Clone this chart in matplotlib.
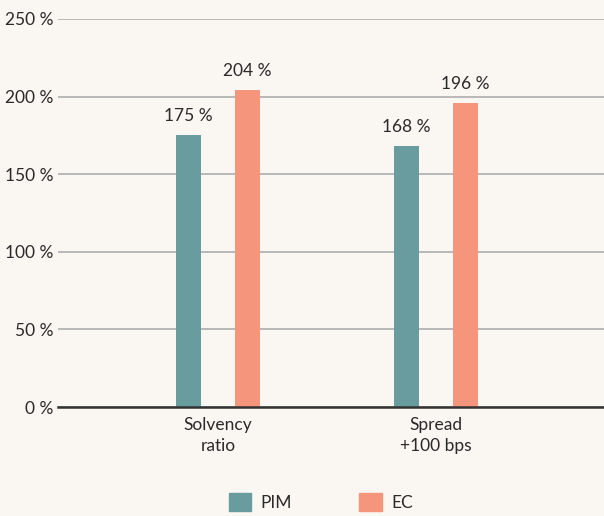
import numpy as np
import matplotlib.pyplot as plt
from matplotlib.patches import Patch

plt.rcParams['font.family'] = ['Lato', 'DejaVu Sans']

# data
categories = ['Solvency\nratio', 'Spread\n+100 bps']
pim = [175, 168]
ec = [204, 196]
yticks = [0, 50, 100, 150, 200, 250]

bg = '#FAF6F2'
c_pim = '#699C9E'
c_ec = '#F4957C'
txt = '#2A2A2A'
fs = 12.5

fig = plt.figure(figsize=(6.04, 5.16), dpi=100, facecolor=bg)
ax = fig.add_axes([0.096, 0.2112, 0.904, 0.752])
ax.set_facecolor(bg)

x = np.arange(len(categories))
w = 0.115
off = 0.135
b1 = ax.bar(x - off, pim, w, color=c_pim, zorder=3)
b2 = ax.bar(x + off, ec, w, color=c_ec, zorder=3)

for bars, vals in [(b1, pim), (b2, ec)]:
    for b, v in zip(bars, vals):
        ax.annotate(f'{v} %', (b.get_x() + b.get_width() / 2, v),
                    xytext=(0, 8), textcoords='offset points',
                    ha='center', va='bottom', fontsize=fs, color=txt)

ax.set_xlim(-0.734, 1.77)
ax.set_ylim(0, 250)
ax.set_yticks(yticks)
ax.set_yticklabels([f'{t} %' for t in yticks])
ax.set_xticks(x)
ax.set_xticklabels(categories, linespacing=1.4)
ax.tick_params(axis='both', length=0, labelsize=fs, colors=txt)
ax.tick_params(axis='y', pad=3)
ax.tick_params(axis='x', pad=7)
ax.grid(axis='y', color='#B8B8B8', linewidth=1.4, zorder=0)
ax.set_axisbelow(True)
for s in ['top', 'right', 'left']:
    ax.spines[s].set_visible(False)
ax.spines['bottom'].set_color('#333333')
ax.spines['bottom'].set_linewidth(1.8)
ax.spines['bottom'].set_zorder(4)

handles = [Patch(color=c_pim, label='PIM'), Patch(color=c_ec, label='EC')]
fig.legend(handles=handles, loc='center', bbox_to_anchor=(0.531, 0.027),
           ncol=2, frameon=False, fontsize=fs, handlelength=1.27,
           handleheight=1.27, handletextpad=0.55, columnspacing=3.9,
           labelcolor=txt, borderpad=0, borderaxespad=0)

fig.savefig('out.png', dpi=100, facecolor=bg)
